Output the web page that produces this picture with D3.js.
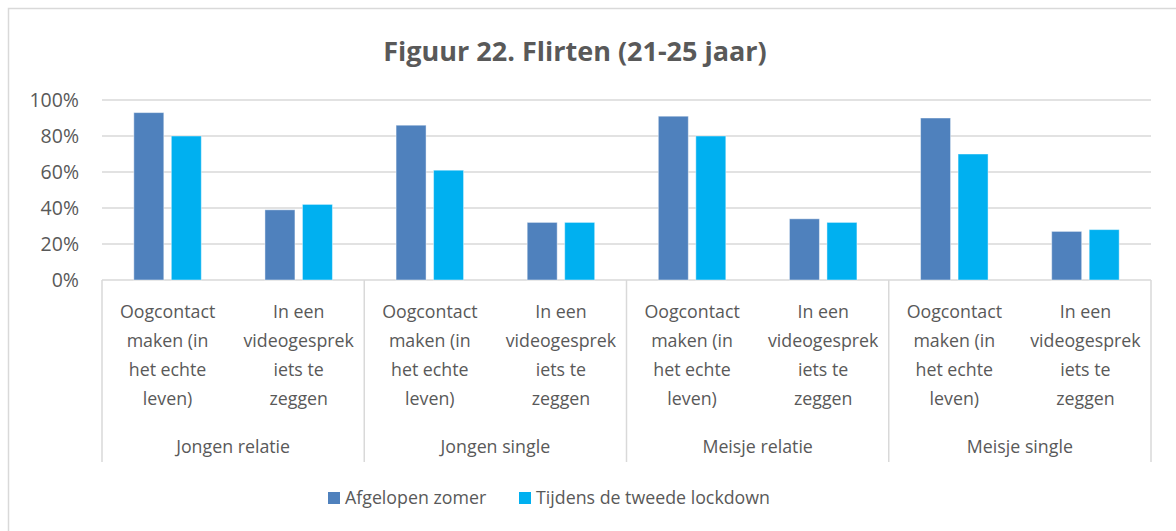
<!DOCTYPE html>
<html lang="nl">
<head>
<meta charset="utf-8">
<title>Figuur 22. Flirten (21-25 jaar)</title>
<script src="https://d3js.org/d3.v7.min.js"></script>
<style>
  body { margin: 0; background: #fff; }
  svg { display: block; font-family: "Open Sans", "Noto Sans", sans-serif; }
</style>
</head>
<body>
<div id="chart"></div>
<script>
// data
var groups = ["Jongen relatie", "Jongen single", "Meisje relatie", "Meisje single"];
var itemLines = [
  ["Oogcontact", "maken (in", "het echte", "leven)"],
  ["In een", "videogesprek", "iets te", "zeggen"]
];
var series = ["Afgelopen zomer", "Tijdens de tweede lockdown"];
var zomer = [93, 39, 86, 32, 91, 34, 90, 27];
var lockdown = [80, 42, 61, 32, 80, 32, 70, 28];
var yTicks = [0, 20, 40, 60, 80, 100];

var w = 1176, h = 531;
var colors = ["#4f81bd", "#00b0f0"];
var textColor = "#595959";
var gridColor = "#d9d9d9";
var labelSize = "17.8px";

var svg = d3.select("#chart").append("svg")
  .attr("width", w).attr("height", h);

// outer border (only top and left visible)
svg.append("path")
  .attr("d", "M8.5," + h + "V8.5H" + w)
  .attr("fill", "none")
  .attr("stroke", gridColor)
  .attr("stroke-width", 1.5);

// title
svg.append("text")
  .attr("x", 575).attr("y", 61)
  .attr("text-anchor", "middle")
  .attr("font-size", "27px")
  .attr("font-weight", "bold")
  .attr("fill", textColor)
  .text("Figuur 22. Flirten (21-25 jaar)");

// categories: each group has both items
var cats = [];
groups.forEach(function(g, gi) {
  itemLines.forEach(function(lines, ii) {
    cats.push({ group: gi, item: ii, lines: lines });
  });
});

var x0 = d3.scaleBand()
  .domain(d3.range(cats.length))
  .range([102, 1151]);

var x1 = d3.scaleBand()
  .domain(d3.range(series.length))
  .range([0, 67.5])
  .paddingInner(0.2);

var y = d3.scaleLinear()
  .domain([0, 100])
  .range([280, 100]);

var offset = (x0.bandwidth() - 67.5) / 2;

// gridlines
svg.selectAll("line.grid")
  .data(yTicks)
  .enter().append("line")
  .attr("class", "grid")
  .attr("x1", x0.range()[0]).attr("x2", x0.range()[1])
  .attr("y1", function(d) { return y(d); })
  .attr("y2", function(d) { return y(d); })
  .attr("stroke", gridColor)
  .attr("stroke-width", 1.5);

// y tick labels
svg.selectAll("text.ytick")
  .data(yTicks)
  .enter().append("text")
  .attr("class", "ytick")
  .attr("x", 79)
  .attr("y", function(d) { return y(d); })
  .attr("dy", "0.35em")
  .attr("text-anchor", "end")
  .attr("font-size", "19.5px")
  .attr("fill", textColor)
  .text(function(d) { return d + "%"; });

// group separators
var sepX = d3.range(groups.length + 1).map(function(i) {
  return i < groups.length ? x0(i * 2) : x0.range()[1];
});
svg.selectAll("line.sep")
  .data(sepX)
  .enter().append("line")
  .attr("class", "sep")
  .attr("x1", function(d) { return d; })
  .attr("x2", function(d) { return d; })
  .attr("y1", 280).attr("y2", 462)
  .attr("stroke", gridColor)
  .attr("stroke-width", 1.5);

// bars
var seriesData = [zomer, lockdown];
seriesData.forEach(function(vals, si) {
  svg.selectAll("rect.s" + si)
    .data(vals)
    .enter().append("rect")
    .attr("class", "s" + si)
    .attr("x", function(d, i) { return x0(i) + offset + x1(si); })
    .attr("y", function(d) { return y(d); })
    .attr("width", x1.bandwidth())
    .attr("height", function(d) { return y(0) - y(d); })
    .attr("fill", colors[si])
    .attr("stroke", "rgba(255,255,255,0.45)")
    .attr("stroke-width", 1);
});

// category labels
var catLabels = svg.selectAll("text.cat")
  .data(cats)
  .enter().append("text")
  .attr("class", "cat")
  .attr("text-anchor", "middle")
  .attr("font-size", labelSize)
  .attr("fill", textColor);

catLabels.selectAll("tspan")
  .data(function(d, i) {
    return d.lines.map(function(l) { return { text: l, x: x0(i) + x0.bandwidth() / 2 }; });
  })
  .enter().append("tspan")
  .attr("x", function(d) { return d.x; })
  .attr("y", function(d, j) { return 312 + j * 29; })
  .attr("dy", "0.35em")
  .text(function(d) { return d.text; });

// group labels
svg.selectAll("text.group")
  .data(groups)
  .enter().append("text")
  .attr("class", "group")
  .attr("x", function(d, i) { return x0(i * 2) + x0.bandwidth(); })
  .attr("y", 447)
  .attr("dy", "0.35em")
  .attr("text-anchor", "middle")
  .attr("font-size", labelSize)
  .attr("fill", textColor)
  .text(function(d) { return d; });

// legend
var legendX = [328, 519];
var legend = svg.selectAll("g.legend")
  .data(series)
  .enter().append("g")
  .attr("class", "legend")
  .attr("transform", function(d, i) { return "translate(" + legendX[i] + ",498)"; });

legend.append("rect")
  .attr("x", 0).attr("y", -6)
  .attr("width", 12).attr("height", 12)
  .attr("fill", function(d, i) { return colors[i]; });

legend.append("text")
  .attr("x", 17)
  .attr("dy", "0.35em")
  .attr("font-size", labelSize)
  .attr("fill", textColor)
  .text(function(d) { return d; });
</script>
</body>
</html>
